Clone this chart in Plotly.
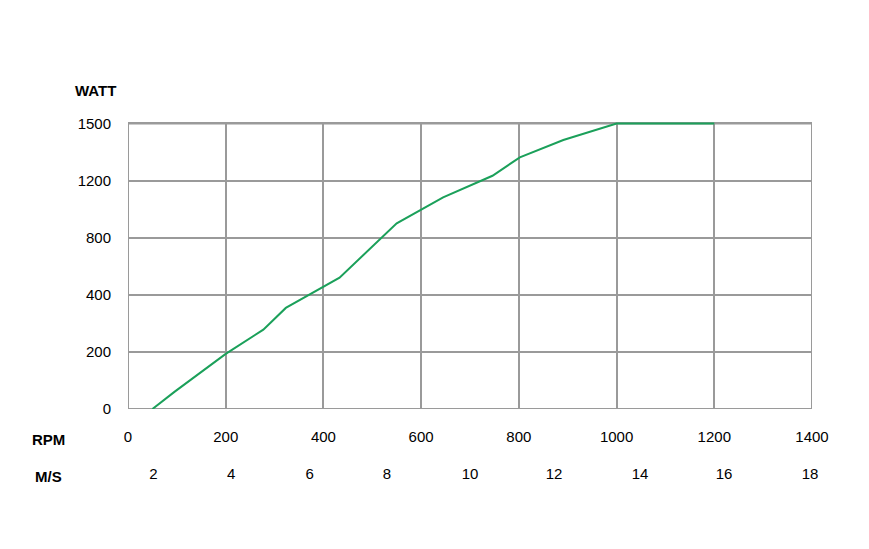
import numpy as np
import plotly.graph_objects as go

# Data
rpm = [50, 95, 200, 277, 323, 400, 433, 550, 645, 746, 802, 891, 1000, 1200]
watt = [0, 60, 193, 278, 354, 458, 520, 900, 1082, 1225, 1322, 1413, 1500, 1500]

rpm_ticks = [0, 200, 400, 600, 800, 1000, 1200, 1400]
watt_ticks = [0, 200, 400, 800, 1200, 1500]
ms_labels = ["2", "4", "6", "8", "10", "12", "14", "16", "18"]
ms_at_rpm = [52, 211, 372, 530, 700, 872, 1048, 1220, 1396]

# Y axis is evenly spaced by tick label (piecewise-linear scale)
tick_pos = list(range(len(watt_ticks)))
y_pos = np.interp(watt, watt_ticks, tick_pos)

GRID = "#9a9a9a"
FONT = "Liberation Sans, Arial, sans-serif"

W, H = 869, 549
OFF = 8  # page body margin
YTOP = 5.025
L = 128 - OFF
PW = 684
PH = round(286 * YTOP / 5)
T = 409 - OFF - PH
R, B = W - L - PW, H - T - PH

fig = go.Figure()
fig.add_trace(go.Scatter(x=rpm, y=y_pos, mode="lines",
                         line=dict(color="#1ba05a", width=2),
                         hoverinfo="skip", showlegend=False))
fig.add_trace(go.Scatter(x=[rpm_ticks[0], rpm_ticks[-1]], y=[0, 0], xaxis="x2",
                         mode="lines", line=dict(color="rgba(0,0,0,0)"),
                         showlegend=False, hoverinfo="skip"))

fig.update_layout(
    width=W, height=H,
    margin=dict(l=L, r=R, t=T, b=B, autoexpand=False),
    paper_bgcolor="white", plot_bgcolor="white",
    font=dict(family=FONT, size=15, color="#000"),
    xaxis=dict(range=[rpm_ticks[0], rpm_ticks[-1]], tickvals=rpm_ticks,
               ticktext=[str(v) for v in rpm_ticks],
               showgrid=True, gridcolor=GRID, gridwidth=2,
               showline=False, zeroline=False, ticks="outside", ticklen=14,
               tickcolor="rgba(0,0,0,0)", fixedrange=True, automargin=False),
    xaxis2=dict(range=[rpm_ticks[0], rpm_ticks[-1]], overlaying="x",
                anchor="free", position=0,
                side="bottom", tickvals=ms_at_rpm, ticktext=ms_labels,
                showgrid=False, showline=False, zeroline=False,
                ticks="outside", ticklen=51, tickcolor="rgba(0,0,0,0)",
                automargin=False),
    yaxis=dict(range=[0, YTOP], tickvals=tick_pos,
               ticktext=[str(v) for v in watt_ticks],
               showgrid=True, gridcolor=GRID, gridwidth=2,
               showline=False, zeroline=False, ticks="outside", ticklen=13,
               tickcolor="rgba(0,0,0,0)", fixedrange=True, automargin=False),
)

# plot frame (drawn beneath the trace)
fig.add_shape(type="rect", xref="x", yref="y",
              x0=rpm_ticks[0], x1=rpm_ticks[-1], y0=tick_pos[0], y1=tick_pos[-1],
              line=dict(color=GRID, width=2), layer="below")

def px_ann(text, x, y):
    # x, y are page pixel positions
    return dict(text=text, x=(x - OFF - L) / PW, y=(H - B - (y - OFF)) / PH,
                xref="paper", yref="paper", xanchor="center", yanchor="middle",
                showarrow=False, font=dict(size=15))

fig.update_layout(annotations=[
    px_ann("<b>WATT</b>", 95, 90),
    px_ann("<b>RPM</b>", 48, 439),
    px_ann("<b>M/S</b>", 48, 476),
])

fig.write_html("out.html")
